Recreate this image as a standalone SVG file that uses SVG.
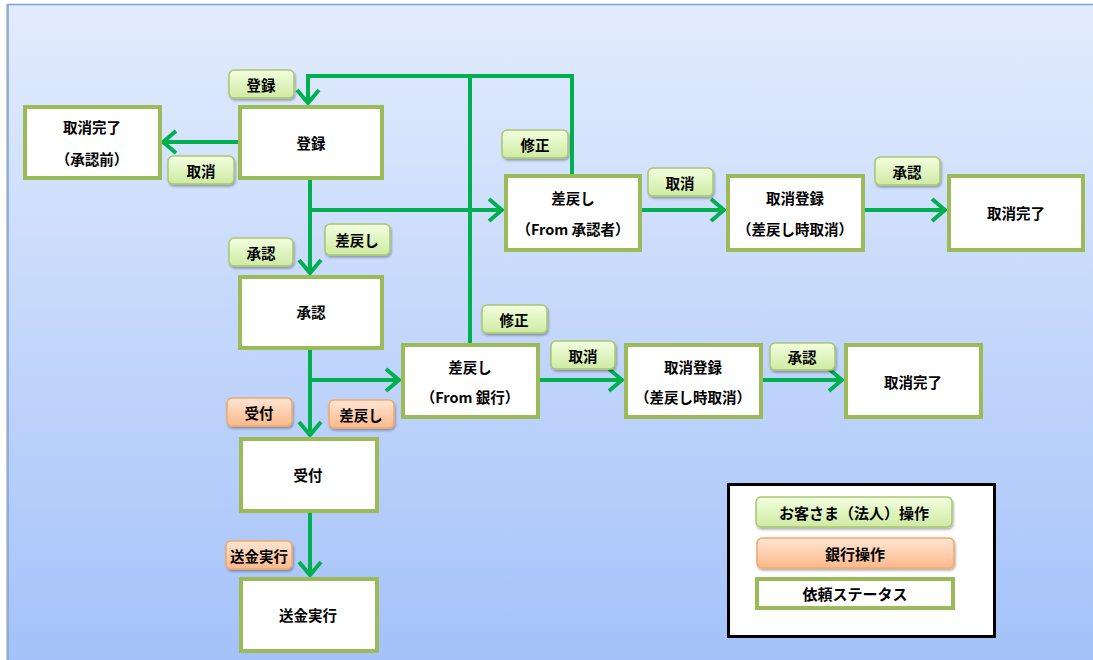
<svg xmlns="http://www.w3.org/2000/svg" width="1093" height="660" viewBox="0 0 1093 660">
<defs>
<linearGradient id="bg" x1="0" y1="0" x2="0" y2="1">
<stop offset="0" stop-color="#e3ecfd"/>
<stop offset="1" stop-color="#a4c2f9"/>
</linearGradient>
<linearGradient id="gl" x1="0" y1="0" x2="0" y2="1">
<stop offset="0" stop-color="#f2ffe0"/>
<stop offset="1" stop-color="#cfeaa2"/>
</linearGradient>
<linearGradient id="ol" x1="0" y1="0" x2="0" y2="1">
<stop offset="0" stop-color="#ffe6d4"/>
<stop offset="1" stop-color="#fbb98a"/>
</linearGradient>
<filter id="sh" x="-20%" y="-30%" width="140%" height="170%">
<feDropShadow dx="1" dy="2" stdDeviation="1.2" flood-color="#000" flood-opacity="0.3"/>
</filter>
<marker id="ar" markerUnits="userSpaceOnUse" viewBox="0 0 18 26" refX="16" refY="13" markerWidth="18" markerHeight="26" orient="auto">
<path d="M2,2 L15,13 L2,24" fill="none" stroke="#00b050" stroke-width="4" stroke-linejoin="miter"/>
</marker>
<style>
.n{fill:#fff;stroke:#9bbb59;stroke-width:4}
.g{fill:url(#gl);stroke:#a8c870;stroke-width:1.5;filter:url(#sh)}
.o{fill:url(#ol);stroke:#f5a66a;stroke-width:1.5;filter:url(#sh)}
.c{fill:none;stroke:#00b050;stroke-width:4}
text{font-family:"Noto Sans CJK JP","Noto Sans",sans-serif;font-weight:bold;font-size:14.5px;fill:#000;text-anchor:middle;dominant-baseline:central}
.lg{font-size:15px}
</style>
</defs>
<rect x="0" y="0" width="1093" height="660" fill="#ffffff"/>
<rect x="6" y="4" width="1087" height="656" fill="#c8c8c8"/>
<rect x="8" y="4" width="1085" height="656" fill="url(#bg)"/>
<path d="M8,660 L8,4.5 L1093,4.5" fill="none" stroke="#7aa4dc" stroke-width="1.5"/>

<g id="connectors">
<line class="c" x1="239" y1="142" x2="162" y2="142" marker-end="url(#ar)"/>
<line class="c" x1="310" y1="178" x2="310" y2="274" marker-end="url(#ar)"/>
<line class="c" x1="310" y1="210" x2="503" y2="210" marker-end="url(#ar)"/>
<polyline class="c" points="572,175 572,76 308,76 308,104" marker-end="url(#ar)"/>
<line class="c" x1="470" y1="76" x2="470" y2="344"/>
<line class="c" x1="640" y1="210" x2="725" y2="210" marker-end="url(#ar)"/>
<line class="c" x1="863" y1="210" x2="946" y2="210" marker-end="url(#ar)"/>
<line class="c" x1="310" y1="349" x2="310" y2="436" marker-end="url(#ar)"/>
<line class="c" x1="310" y1="380" x2="400" y2="380" marker-end="url(#ar)"/>
<line class="c" x1="538" y1="380" x2="623" y2="380" marker-end="url(#ar)"/>
<line class="c" x1="761" y1="380" x2="843" y2="380" marker-end="url(#ar)"/>
<line class="c" x1="310" y1="512" x2="310" y2="576" marker-end="url(#ar)"/>
</g>

<g id="n-cancel-done-pre"><rect class="n" x="25" y="107" width="135" height="71"/><text x="92" y="126">取消完了</text><text x="92" y="158">（承認前）</text></g>
<g id="n-register"><rect class="n" x="240" y="107" width="142" height="71"/><text x="311" y="142">登録</text></g>
<g id="n-return-approver"><rect class="n" x="506" y="176" width="134" height="74"/><text x="573" y="197">差戻し</text><text x="573" y="228">（From 承認者）</text></g>
<g id="n-cancel-reg-1"><rect class="n" x="728" y="176" width="135" height="74"/><text x="795" y="197">取消登録</text><text x="795" y="228">（差戻し時取消）</text></g>
<g id="n-cancel-done-1"><rect class="n" x="949" y="176" width="134" height="74"/><text x="1016" y="212">取消完了</text></g>
<g id="n-approve"><rect class="n" x="240" y="277" width="142" height="71"/><text x="311" y="311">承認</text></g>
<g id="n-return-bank"><rect class="n" x="403" y="345" width="135" height="72"/><text x="470" y="366">差戻し</text><text x="470" y="396">（From 銀行）</text></g>
<g id="n-cancel-reg-2"><rect class="n" x="626" y="345" width="135" height="72"/><text x="693" y="366">取消登録</text><text x="693" y="396">（差戻し時取消）</text></g>
<g id="n-cancel-done-2"><rect class="n" x="846" y="345" width="135" height="72"/><text x="913" y="381">取消完了</text></g>
<g id="n-accept"><rect class="n" x="241" y="439" width="136" height="72"/><text x="308" y="474">受付</text></g>
<g id="n-remit"><rect class="n" x="241" y="579" width="136" height="72"/><text x="308" y="614">送金実行</text></g>

<g id="labels">
<g id="l-register"><rect class="g" x="229" y="70" width="65" height="28" rx="5"/><text x="261" y="84">登録</text></g>
<g id="l-cancel-0"><rect class="g" x="168" y="156" width="66" height="28" rx="5"/><text x="201" y="170">取消</text></g>
<g id="l-fix-1"><rect class="g" x="502" y="130" width="66" height="28" rx="5"/><text x="535" y="144">修正</text></g>
<g id="l-cancel-1"><rect class="g" x="648" y="168" width="65" height="28" rx="5"/><text x="680" y="182">取消</text></g>
<g id="l-approve-1"><rect class="g" x="875" y="157" width="65" height="28" rx="5"/><text x="907" y="171">承認</text></g>
<g id="l-approve"><rect class="g" x="229" y="238" width="64" height="28" rx="5"/><text x="261" y="252">承認</text></g>
<g id="l-return"><rect class="g" x="325" y="224" width="65" height="31" rx="5"/><text x="357" y="239">差戻し</text></g>
<g id="l-fix-2"><rect class="g" x="482" y="305" width="65" height="28" rx="5"/><text x="514" y="319">修正</text></g>
<g id="l-cancel-2"><rect class="g" x="551" y="341" width="64" height="28" rx="5"/><text x="583" y="355">取消</text></g>
<g id="l-approve-2"><rect class="g" x="770" y="343" width="65" height="27" rx="5"/><text x="802" y="356">承認</text></g>
<g id="l-accept"><rect class="o" x="227" y="398" width="65" height="28" rx="5"/><text x="259" y="412">受付</text></g>
<g id="l-return-bank"><rect class="o" x="329" y="400" width="65" height="28" rx="5"/><text x="361" y="414">差戻し</text></g>
<g id="l-remit"><rect class="o" x="226" y="541" width="66" height="28" rx="5"/><text x="259" y="555">送金実行</text></g>
</g>

<g id="legend">
<rect x="728.5" y="484.5" width="266" height="152" fill="#fff" stroke="#000" stroke-width="3"/>
<rect class="g" x="756" y="497" width="196" height="30" rx="5"/><text class="lg" x="854" y="512">お客さま（法人）操作</text>
<rect class="o" x="757" y="538" width="197" height="30" rx="5"/><text class="lg" x="855" y="553">銀行操作</text>
<rect class="n" x="757" y="579" width="196" height="29"/><text class="lg" x="855" y="593">依頼ステータス</text>
</g>
</svg>
